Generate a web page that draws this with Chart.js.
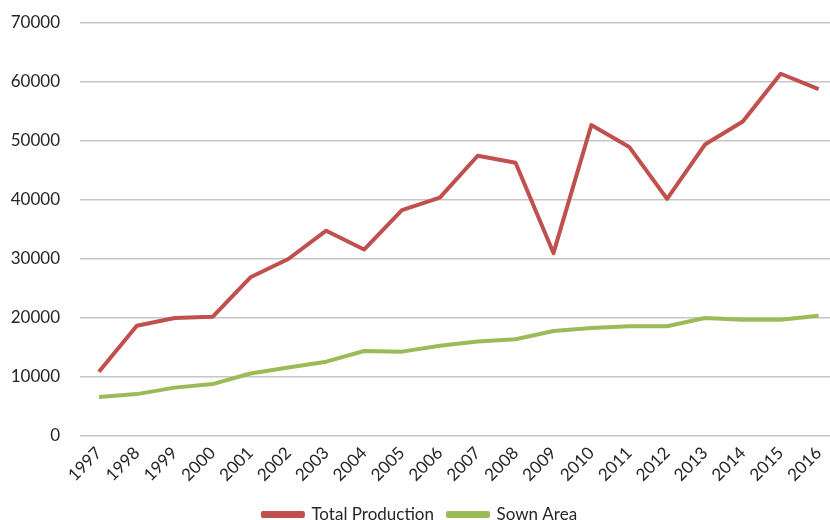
<!DOCTYPE html>
<html><head><meta charset="utf-8">
<script src="https://cdn.jsdelivr.net/npm/chart.js@4"></script>
<style>
html,body{margin:0;padding:0;background:#fff;overflow:hidden;}
#wrap{position:relative;width:840px;height:520px;}
</style></head>
<body><div id="wrap"><canvas id="c"></canvas></div>
<script>
const years = ['1997','1998','1999','2000','2001','2002','2003','2004','2005','2006','2007','2008','2009','2010','2011','2012','2013','2014','2015','2016'];
const totalProduction = [10900,18700,20000,20200,26900,30000,34800,31600,38300,40400,47500,46300,31000,52700,49000,40200,49400,53300,61400,58800];
const sownArea = [6600,7100,8200,8800,10600,11600,12600,14400,14300,15300,16000,16400,17800,18300,18600,18600,20000,19700,19700,20400];
const yTicks = [0,10000,20000,30000,40000,50000,60000,70000];
const FONT = 'Lato';

new Chart(document.getElementById('c'), {
  type: 'line',
  data: {
    labels: years,
    datasets: [
      {label:'Total Production', data: totalProduction, borderColor:'#C0504D', backgroundColor:'#C0504D', borderWidth:4, pointRadius:0, tension:0, borderJoinStyle:'round'},
      {label:'Sown Area', data: sownArea, borderColor:'#9BBB59', backgroundColor:'#9BBB59', borderWidth:4, pointRadius:0, tension:0, borderJoinStyle:'round'}
    ]
  },
  options: {
    responsive: true, maintainAspectRatio: false, animation: false,
    devicePixelRatio: 1,
    layout: {padding: {top: 23, right: 0, bottom: -13, left: 0}},
    plugins: {
      legend: {position:'bottom', labels:{color:'#262626', font:{family:FONT, size:17}, boxWidth:40, boxHeight:3, padding:14}},
      tooltip: {enabled:false}
    },
    scales: {
      x: {
        offset: true,
        grid: {display:false, drawTicks:false},
        border: {display:false},
        ticks: {color:'#262626', font:{family:FONT, size:17}, minRotation:45, maxRotation:45, padding:7, autoSkip:false},
        afterFit: s => { s.height = 56; }
      },
      y: {
        min: 0, max: 70000,
        afterBuildTicks: s => { s.ticks = yTicks.map(v => ({value:v})); },
        grid: {color:'#c6c6c6', lineWidth:1.5, drawTicks:false},
        border: {display:false},
        ticks: {color:'#262626', font:{family:FONT, size:17}, padding:20, callback: v => String(v)},
        afterFit: s => { s.width = 80; s.paddingTop = 10; s.paddingBottom = 10; }
      }
    }
  }
});
</script></body></html>
